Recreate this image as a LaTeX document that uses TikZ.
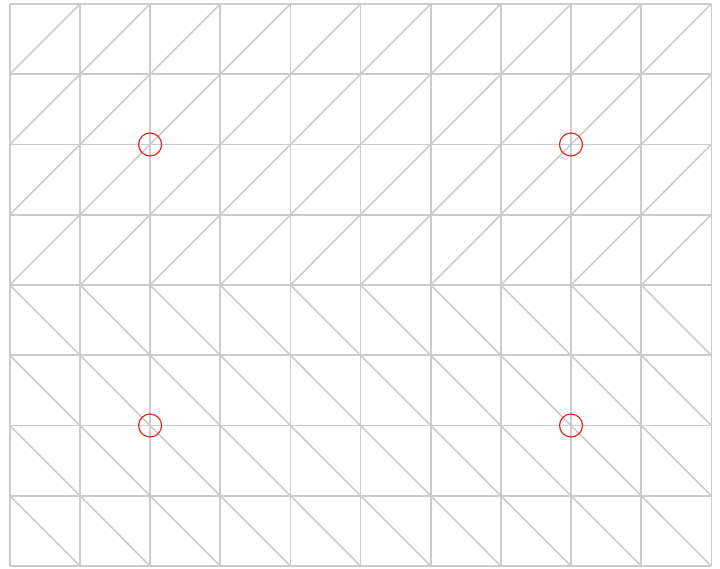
\documentclass[tikz,border=0pt]{standalone}
\begin{document}
\begin{tikzpicture}[x=1pt,y=-1pt,
  gridline/.style={draw={rgb,255:red,204;green,204;blue,204},line width=1.6pt},
  mark circle/.style={draw={rgb,255:red,230;green,40;blue,40},line width=1.2pt,circle,minimum size=23pt,inner sep=0pt}]
\useasboundingbox (0,0) rectangle (720,568);
\def\cw{70.15}\def\ch{70.25}\def\ox{9.8}\def\oy{4}
% vertical and horizontal lines
\foreach \i in {0,...,10} \draw[gridline] (\ox+\i*\cw,\oy) -- (\ox+\i*\cw,\oy+8*\ch);
\foreach \j in {0,...,8} \draw[gridline] (\ox,\oy+\j*\ch) -- (\ox+10*\cw,\oy+\j*\ch);
% top half diagonals (/)
\foreach \i in {0,...,9} \foreach \j in {0,...,3}
  \draw[gridline] (\ox+\i*\cw,\oy+\j*\ch+\ch) -- (\ox+\i*\cw+\cw,\oy+\j*\ch);
% bottom half diagonals (\)
\foreach \i in {0,...,9} \foreach \j in {4,...,7}
  \draw[gridline] (\ox+\i*\cw,\oy+\j*\ch) -- (\ox+\i*\cw+\cw,\oy+\j*\ch+\ch);
% marked vertices
\node[mark circle] (c1) at (\ox+2*\cw,\oy+2*\ch) {};
\node[mark circle] (c2) at (\ox+8*\cw,\oy+2*\ch) {};
\node[mark circle] (c3) at (\ox+2*\cw,\oy+6*\ch) {};
\node[mark circle] (c4) at (\ox+8*\cw,\oy+6*\ch) {};
\end{tikzpicture}
\end{document}
